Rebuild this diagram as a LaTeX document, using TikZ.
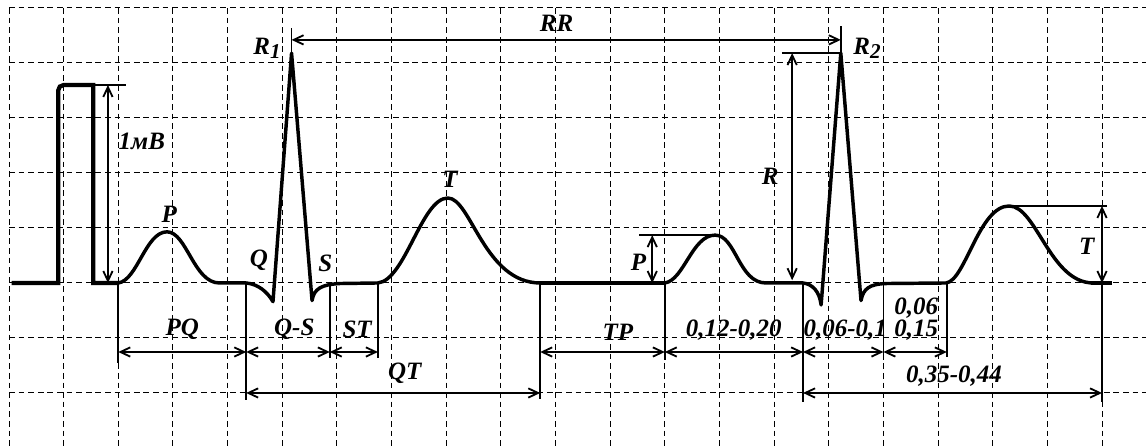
\documentclass[tikz,border=0pt]{standalone}
\usepackage{fontspec}
\setmainfont{Liberation Serif}
\usetikzlibrary{arrows.meta,positioning}

\tikzset{
  grid line/.style={line width=.5pt, dash pattern=on 3pt off 2pt},
  trace/.style={line width=1.8pt, line join=round},
  pulse/.style={line width=2.2pt},
  thin line/.style={line width=.95pt},
  dim line/.style={thin line, {Straight Barb[length=1.8mm,width=1.7mm]}-{Straight Barb[length=1.8mm,width=1.7mm]}},
  lab/.style={font=\fontsize{13}{15}\selectfont\bfseries\itshape, inner sep=0pt},
}
\newcommand{\ind}[1]{\raisebox{-.3ex}{\fontsize{11}{11}\selectfont #1}}

\begin{document}
\begin{tikzpicture}[x=1cm, y=1.0064cm]
    \useasboundingbox (-0.165,-3) rectangle (20.805,5.145);
    % grid
    \foreach \x in {0,...,20}
        \draw[grid line] (\x,5) -- (\x,-3);
    \foreach \y in {-2,...,5}
        \draw[grid line] (0,\y) -- (20.805,\y);

    \coordinate (R1) at (5.17,4.18);
    \coordinate (R2) at (15.22,4.18);
    \coordinate (Ptop) at (12.92,0.87);
    \coordinate (Ttop) at (18.3,1.4);
    \coordinate (Cal) at (1.54,3.6);

    % calibration pulse
    \draw[pulse] (0.05,0) -- (0.9,0) -- (0.9,3.5) arc[start angle=180,end angle=90,radius=0.1]
        -- (Cal) -- (1.54,0) -- (2,0);

    % first cycle
    \draw[trace] (2,0) .. controls (2.35,0.05) and (2.5,0.93) .. (2.89,0.93)
        .. controls (3.25,0.93) and (3.38,0) .. (3.85,0) -- (4.34,0)
        .. controls (4.55,-0.02) and (4.72,-0.15) .. (4.83,-0.34)
        -- (R1) -- (5.545,-0.32)
        .. controls (5.58,-0.1) and (5.72,-0.03) .. (6.05,-0.01) -- (6.75,0)
        .. controls (7.25,0.05) and (7.55,1.545) .. (8.03,1.545)
        .. controls (8.45,1.545) and (8.7,0) .. (9.72,0);
    \draw[pulse] (9.72,0) -- (12,0);

    % second cycle
    \draw[trace] (12,0) .. controls (12.35,0.05) and (12.5,0.87) .. (Ptop)
        .. controls (13.3,0.87) and (13.35,0) .. (13.85,0) -- (14.53,0)
        .. controls (14.7,-0.02) and (14.83,-0.15) .. (14.86,-0.4)
        -- (R2) -- (15.59,-0.32)
        .. controls (15.63,-0.1) and (15.75,-0.02) .. (16.05,-0.01) -- (17.15,0)
        .. controls (17.5,0.05) and (17.75,1.4) .. (Ttop)
        .. controls (18.8,1.4) and (19.05,0) .. (19.84,0);
    \draw[pulse] (19.8,0) -- (20.18,0);

    % amplitudes
    \coordinate (mv) at (1.81,0);
    \draw[thin line] (Cal) -- (2.14,3.6);
    \draw[dim line] (mv) -- (mv |- Cal);

    \coordinate (rr) at (0,4.42);
    \draw[thin line] (R1) -- ++(0,0.46);
    \draw[thin line] (R2) -- ++(0,0.5);
    \draw[dim line] (R1 |- rr) -- (R2 |- rr);

    \coordinate (rdim) at (14.33,0.05);
    \draw[thin line] (14.14,4.18) -- (R2);
    \draw[dim line] (rdim) -- (rdim |- R2);

    \coordinate (pdim) at (11.77,0);
    \draw[thin line] (11.53,0.87) -- (Ptop);
    \draw[dim line] (pdim) -- (pdim |- Ptop);

    \coordinate (tdim) at (20,0);
    \draw[thin line] (Ttop) -- (20.09,1.4);
    \draw[dim line] (tdim) -- (tdim |- Ttop);

    % intervals
    \foreach \n/\x/\y in {a/2/-1.45, b/4.34/-2.13, c/5.87/-1.36, d/6.75/-1.36, e/9.72/-2.11,
                          f/12/-1.4, g/14.53/-2.16, h/16/-1.4, i/17.16/-1.35, j/20/-2.16}{
        \coordinate (t\n) at (\x,0);
        \draw[thin line] (t\n) -- (\x,\y);
    }
    \coordinate (row1) at (0,-1.255);
    \coordinate (row2) at (0,-2);
    \foreach \a/\b in {a/b, b/c, c/d, e/f, f/g, g/h, h/i}
        \draw[dim line] (t\a |- row1) -- (t\b |- row1);
    \draw[dim line] (tb |- row2) -- (te |- row2);
    \draw[dim line] (tg |- row2) -- (tj |- row2);

    % labels
    \node[lab] (mvl) at (2.43,2.58) {1мВ};
    \node[lab] (pl) at (2.93,1.24) {P};
    \node[lab] (ql) at (4.57,0.42) {Q};
    \node[lab] (sl) at (5.79,0.35) {S};
    \node[lab] (tl) at (8.07,1.89) {T};
    \node[lab] (r1l) at (4.72,4.27) {R\ind{1}};
    \node[lab] (r2l) at (15.7,4.27) {R\ind{2}};
    \node[lab] (rrl) at (10.02,4.73) {RR};
    \node[lab] (rl) at (13.93,1.94) {R};
    \node[lab] (p2l) at (11.52,0.37) {P};
    \node[lab] (t2l) at (19.72,0.66) {T};
    \node[lab] (pql) at (3.17,-0.85) {PQ};
    \node[lab] (qsl) at (5.22,-0.85) {Q-S};
    \node[lab] (stl) at (6.37,-0.85) {ST};
    \node[lab] (qtl) at (7.24,-1.65) {QT};
    \node[lab] (tpl) at (11.14,-0.9) {TP};
    \node[lab] (prl) at (13.26,-0.855) {0,12-0,20};
    \node[lab] (qrsl) at (15.3,-0.855) {0,06-0,1};
    \node[lab] (stal) at (16.6,-0.45) {0,06};
    \node[lab] (stbl) at (16.6,-0.855) {0,15};
    \node[lab] (qtnl) at (17.29,-1.7) {0,35-0,44};
\end{tikzpicture}
\end{document}
